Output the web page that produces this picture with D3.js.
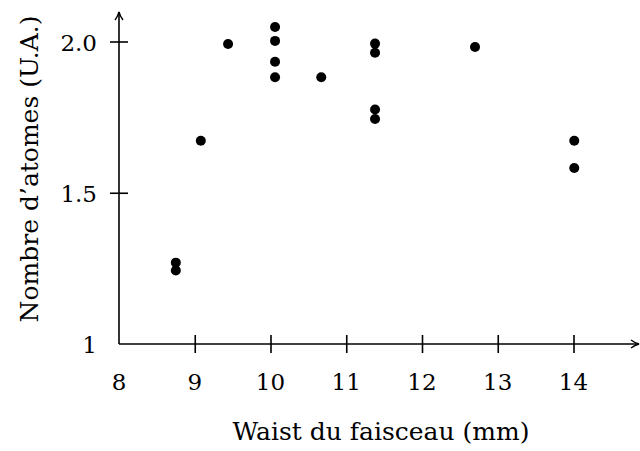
<!DOCTYPE html>
<html>
<head>
<meta charset="utf-8">
<script src="https://cdn.jsdelivr.net/npm/d3@7"></script>
<style>
  body { margin: 0; background: #fff; }
  text { font-family: "DejaVu Serif", serif; fill: #000; }
</style>
</head>
<body>
<svg width="640" height="451"></svg>
<script>
// waist (mm) and atom number (a.u.)
const waist = [8.75, 8.75, 9.08, 9.44, 10.06, 10.06, 10.06, 10.06, 10.67, 11.38, 11.38, 11.38, 11.38, 12.70, 14.01, 14.01];
const atoms = [1.269, 1.243, 1.672, 1.992, 2.048, 2.002, 1.933, 1.882, 1.882, 1.993, 1.963, 1.775, 1.744, 1.982, 1.672, 1.582];
const xTicks = [9, 10, 11, 12, 13, 14];
const yTicks = [1.5, 2.0];

const svg = d3.select("svg");

const x = d3.scaleLinear().domain([8, 14]).range([119, 573.5]);
const y = d3.scaleLinear().domain([1, 2]).range([344, 41.5]);

// arrow head
svg.append("defs").append("marker")
  .attr("id", "arr")
  .attr("viewBox", "0 0 10 10")
  .attr("refX", 9).attr("refY", 5)
  .attr("markerWidth", 10).attr("markerHeight", 10)
  .attr("markerUnits", "userSpaceOnUse")
  .attr("orient", "auto")
  .append("path")
  .attr("d", "M1,1 Q5,4 9,5 Q5,6 1,9")
  .attr("fill", "none").attr("stroke", "#000").attr("stroke-width", 1.4);

// x axis
const xAxis = svg.append("g")
  .attr("transform", "translate(0,344)")
  .call(d3.axisBottom(x).tickValues(xTicks).tickSize(0).tickFormat(""));
xAxis.select(".domain").remove();
svg.append("line")
  .attr("x1", 119).attr("x2", 639).attr("y1", 344).attr("y2", 344)
  .attr("stroke", "#000").attr("stroke-width", 1.6)
  .attr("marker-end", "url(#arr)");
xAxis.selectAll(".tick line")
  .attr("y1", -9).attr("y2", 9)
  .attr("stroke", "#000").attr("stroke-width", 1.6);

// y axis
const yAxis = svg.append("g")
  .attr("transform", "translate(119,0)")
  .call(d3.axisLeft(y).tickValues(yTicks).tickSize(0).tickFormat(""));
yAxis.select(".domain").remove();
svg.append("line")
  .attr("x1", 119).attr("x2", 119).attr("y1", 344).attr("y2", 12)
  .attr("stroke", "#000").attr("stroke-width", 1.6)
  .attr("marker-end", "url(#arr)");
yAxis.selectAll(".tick line")
  .attr("x1", -9).attr("x2", 9)
  .attr("stroke", "#000").attr("stroke-width", 1.6);

// tick labels
svg.append("g").selectAll("text")
  .data([8].concat(xTicks))
  .join("text")
  .attr("x", d => x(d))
  .attr("y", 390)
  .attr("text-anchor", "middle")
  .attr("font-size", 23)
  .text(d => d);

svg.append("g").selectAll("text")
  .data([1].concat(yTicks))
  .join("text")
  .attr("x", 97)
  .attr("y", d => y(d) + 9)
  .attr("text-anchor", "end")
  .attr("font-size", 23)
  .text(d => d === 1 ? "1" : d3.format(".1f")(d));

// axis titles
svg.append("text")
  .attr("x", 381).attr("y", 440)
  .attr("text-anchor", "middle")
  .attr("font-size", 25)
  .text("Waist du faisceau (mm)");

svg.append("text")
  .attr("transform", "translate(38,169) rotate(-90)")
  .attr("text-anchor", "middle")
  .attr("font-size", 25)
  .text("Nombre d’atomes (U.A.)");

// points
svg.append("g").selectAll("circle")
  .data(waist.map((w, i) => [w, atoms[i]]))
  .join("circle")
  .attr("cx", d => x(d[0]))
  .attr("cy", d => y(d[1]))
  .attr("r", 5)
  .attr("fill", "#000");
</script>
</body>
</html>
